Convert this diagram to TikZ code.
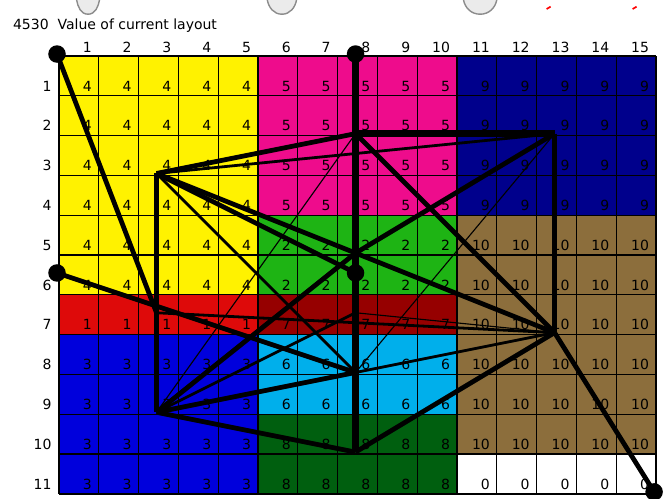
\documentclass[tikz,border=0pt]{standalone}
\usepackage{fontspec}
\setmainfont{DejaVu Sans}
\definecolor{dyellow}{RGB}{255,242,0}
\definecolor{dpink}{RGB}{238,12,140}
\definecolor{dnavy}{RGB}{0,0,140}
\definecolor{dgreen}{RGB}{30,180,20}
\definecolor{ddarkgreen}{RGB}{0,95,15}
\definecolor{dred}{RGB}{222,10,10}
\definecolor{ddarkred}{RGB}{150,0,0}
\definecolor{dblue}{RGB}{0,0,220}
\definecolor{dcyan}{RGB}{0,175,235}
\definecolor{dbrown}{RGB}{140,110,60}
\tikzset{
  cellnum/.style={anchor=base east,inner sep=0pt,font=\fontsize{10}{10}\selectfont},
  headnum/.style={anchor=base east,inner sep=0pt,font=\fontsize{10}{10}\selectfont},
  iodot/.style={circle,fill=black,minimum size=0.44cm,inner sep=0pt},
  btnedge/.style={draw=black!45,fill=black!8,line width=1pt},
  flowA/.style={line width=4.5pt},
  flowB/.style={line width=3.4pt},
  flowC/.style={line width=2pt},
  flowD/.style={line width=0.8pt}
}
\begin{document}
\begin{tikzpicture}[y=-1cm]
% grid of 15 x 11 cells, one cell = 1cm
\useasboundingbox (-1.482,-1.407) rectangle (15.40,11.126);
% cut-off buttons at the top
\foreach \bx/\bw [count=\k] in {0.73/0.29, 5.60/0.37, 10.58/0.42}
  \draw[btnedge] (\bx-\bw,-1.42) to[out=-80,in=180] (\bx,-1.05)
    to[out=0,in=-100] (\bx+\bw,-1.42);
\foreach \rx in {12.31,14.47}
  \draw[red,line width=1.2pt] (\rx-0.06,-1.18) -- (\rx+0.04,-1.24);
\node[anchor=base west,inner sep=0pt,font=\fontsize{10}{10}\selectfont] (title) at (-1.16,-0.66) {4530\ \ Value of current layout};
\foreach \num/\xa/\xb/\ya/\yb/\col in {4/1/5/1/6/dyellow, 5/6/10/1/4/dpink,
    9/11/15/1/4/dnavy, 2/6/10/5/6/dgreen, 1/1/5/7/7/dred, 7/6/10/7/7/ddarkred,
    10/11/15/5/10/dbrown, 3/1/5/8/11/dblue, 6/6/10/8/9/dcyan,
    8/6/10/10/11/ddarkgreen, 0/11/15/11/11/white}{
  \fill[\col] (\xa-1,\ya-1) rectangle (\xb,\yb);
  \foreach \cx in {\xa,...,\xb}
    \foreach \cy in {\ya,...,\yb}
      \node[cellnum] (c\cx-\cy) at (\cx-0.17,\cy-0.12) {\num};
}
\draw[line width=0.9pt] (0,0) grid (15,11);
\foreach \i in {1,...,15}
  \node[headnum] (col\i) at (\i-0.17,-0.1) {\i};
\foreach \i in {1,...,11}
  \node[headnum] (row\i) at (-0.18,\i-0.12) {\i};
% department centres
\coordinate (p4) at (2.45,2.95);
\coordinate (p5) at (7.45,1.95);
\coordinate (p9) at (12.45,1.95);
\coordinate (p2) at (7.45,4.95);
\coordinate (p1) at (2.45,6.45);
\coordinate (p7) at (7.45,6.45);
\coordinate (p10) at (12.45,6.95);
\coordinate (p3) at (2.45,8.95);
\coordinate (p6) at (7.45,7.95);
\coordinate (p8) at (7.45,9.95);
% fixed points
\node[iodot] (io1) at (-0.05,-0.05) {};
\node[iodot] (io2) at (7.45,-0.05) {};
\node[iodot] (io3) at (-0.05,5.45) {};
\node[iodot] (io4) at (7.45,5.45) {};
\node[iodot] (io5) at (14.95,10.95) {};
% flows
\draw[flowB] (io1.center) -- (p1);
\draw[flowA] (io2.center) -- (p8);
\draw[flowA] (p5) -- (p9);
\draw[flowB] (p9) -- (p10);
\draw[flowB] (p10) -- (io5.center);
\draw[flowB] (p4) -- (p3);
\draw[flowB] (p3) -- (p8);
\draw[flowB] (p8) -- (p10);
\draw[flowB] (p4) -- (p5);
\draw[flowC] (p4) -- (p9);
\draw[flowB] (p4) -- (p10);
\draw[flowB] (p4) -- (io4.center);
\draw[flowB] (p5) -- (p10);
\draw[flowB] (p3) -- (p6);
\draw[flowC] (p6) -- (p10);
\draw[flowB] (io3.center) -- (p6);
\draw[flowB] (p9) -- (p2);
\draw[flowB] (p2) -- (p3);
\draw[flowC] (p3) -- (p7);
\draw[flowC] (p1) -- (p10);
\draw[flowD] (p7) -- (p10);
\draw[flowD] (p3) -- (p5);
\draw[flowD] (p9) -- (p6);
\draw[flowC] (p4) -- (p6);
\end{tikzpicture}
\end{document}
